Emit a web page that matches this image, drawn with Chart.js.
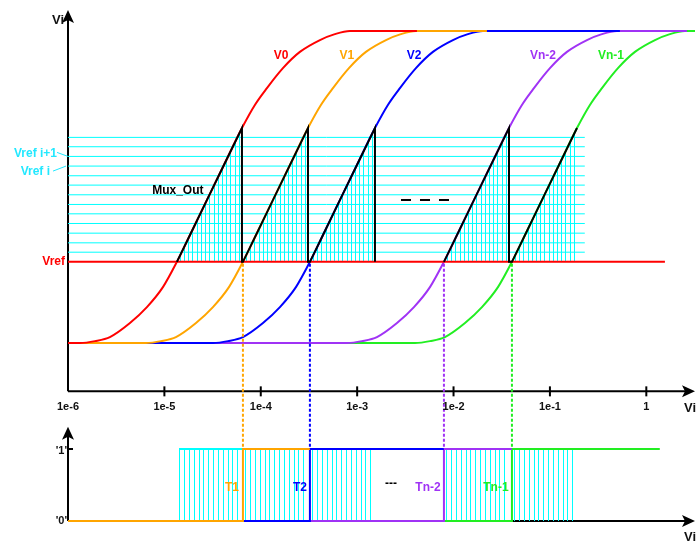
<!DOCTYPE html>
<html>
<head>
<meta charset="utf-8">
<title>Mux_Out</title>
<script src="https://cdn.jsdelivr.net/npm/chart.js@4.4.1/dist/chart.umd.min.js"></script>
<style>
  body { margin: 0; background: #fff; }
  canvas { display: block; }
</style>
</head>
<body>
<canvas id="chart" width="697" height="541"></canvas>
<script>
// log axis ticks
const tickValues = [1e-6, 1e-5, 1e-4, 1e-3, 1e-2, 1e-1, 1]
const tickLabels = ['1e-6', '1e-5', '1e-4', '1e-3', '1e-2', '1e-1', '1']

// comparator curves (levels: 0 = low, 1 = high)
const curveNames  = ['V0', 'V1', 'V2', 'Vn-2', 'Vn-1']
const curveColors = ['#ff0000', '#ffa500', '#0000ff', '#a033f5', '#22ee22']
const curveStart  = [1e-6, 1.33e-6, 6.44e-6, 3.19e-5, 7.84e-4]
const riseStart   = [1.33e-6, 6.44e-6, 3.19e-5, 7.84e-4, 3.98e-3]
const curveEnd    = [4.17e-3, 0.0222, 0.532, 2.64, 3.2]
const curveLabelX = [1.62e-4, 7.83e-4, 3.89e-3, 0.0847, 0.43]

// shape of one rise: decades after riseStart, and level
const riseDecades = [0, 0.156, 0.311, 0.519, 0.695, 0.861, 1.006, 1.162, 1.317, 1.504, 1.681, 1.815, 1.94, 2.106, 2.282, 2.49, 2.645, 2.801]
const riseLevels  = [0, 0.006, 0.019, 0.064, 0.115, 0.179, 0.26, 0.359, 0.458, 0.577, 0.689, 0.763, 0.817, 0.881, 0.933, 0.971, 0.99, 1]
const CROSS = 6   // point where the curve meets Vref
const TOP = 10    // point where Mux_Out switches to the next curve

// reference ladder
const vrefLevels = [0.26, 0.291, 0.321, 0.352, 0.383, 0.414, 0.444, 0.475, 0.506, 0.536, 0.567, 0.598, 0.629, 0.659]
const vref = vrefLevels[0]
const ladderEnd = 0.23
const vrefEnd = 1.56

// Mux_Out break (the "- - -" between V2 and Vn-2)
const muxBreakBefore = [false, false, false, true, false]

// thermometer outputs, one per curve V1..Vn-1
const signalNames = ['T1', 'T2', 'Tn-2', 'Tn-1']
const signalLabelX = [5.02e-5, 2.55e-4, 5.43e-3, 0.0275]
const signalEnd = 1.38

const CYAN = '#00ffff'
const FONT = '"Liberation Sans", Arial, sans-serif'
const axisLevel = -0.155     // top x axis, in top units
const sigAxisTop = 1.31      // top of the lower y axis, in signal units

const curvePoint = (k, i) => ({ x: riseStart[k] * Math.pow(10, riseDecades[i]), y: riseLevels[i] })
const switchX = k => riseStart[k] * Math.pow(10, riseDecades[CROSS])

function curvePoints(k) {
  const pts = [{ x: curveStart[k], y: 0 }]
  riseDecades.forEach((d, i) => pts.push(curvePoint(k, i)))
  pts.push({ x: curveEnd[k], y: 1 })
  return pts
}

function muxPoints() {
  const pts = []
  curveNames.forEach((name, k) => {
    if (muxBreakBefore[k]) pts.push({ x: switchX(k), y: null })
    for (let i = CROSS; i <= TOP; i++) pts.push(curvePoint(k, i))
    if (k < curveNames.length - 1) pts.push({ x: curvePoint(k, TOP).x, y: vref })
  })
  return pts
}

function signalPoints(j) {
  const k = j + 1
  const lowFrom = j === 0 ? 1e-6 : switchX(k - 1)
  const highTo = k < curveNames.length - 1 ? switchX(k + 1) : signalEnd
  return [{ x: lowFrom, y: 0 }, { x: switchX(k), y: 0 }, { x: switchX(k), y: 1 }, { x: highTo, y: 1 }]
}

const ladderPoints = []
vrefLevels.slice(1).forEach(v => {
  ladderPoints.push({ x: 1e-6, y: v }, { x: ladderEnd, y: v }, { x: ladderEnd, y: null })
})

const datasets = [
  { data: ladderPoints, borderColor: CYAN, borderWidth: 1, order: 10, yAxisID: 'y' },
  ...curveNames.map((n, k) => ({
    label: n, data: curvePoints(k), borderColor: curveColors[k], borderWidth: 2,
    cubicInterpolationMode: 'monotone', order: 5 + k, yAxisID: 'y'
  })),
  { data: [{ x: 1e-6, y: vref }, { x: vrefEnd, y: vref }], borderColor: '#ff0000', borderWidth: 2, order: 3, yAxisID: 'y' },
  { label: 'Mux_Out', data: muxPoints(), borderColor: '#000', borderWidth: 2, order: 1, yAxisID: 'y' },
  ...signalNames.map((n, j) => ({
    label: n, data: signalPoints(j), borderColor: curveColors[j + 1], borderWidth: 2, order: 2, yAxisID: 'y2'
  }))
]

function seg(ctx, x1, y1, x2, y2) {
  ctx.beginPath(); ctx.moveTo(x1, y1); ctx.lineTo(x2, y2); ctx.stroke()
}
// crisp 1px vertical line
function vline(ctx, x, y1, y2) {
  ctx.fillRect(Math.round(x), Math.round(Math.min(y1, y2)), 1, Math.round(Math.abs(y2 - y1)))
}
function arrowUp(ctx, x, y) {
  ctx.beginPath(); ctx.moveTo(x, y); ctx.lineTo(x - 6, y + 13); ctx.lineTo(x, y + 10); ctx.lineTo(x + 6, y + 13); ctx.closePath(); ctx.fill()
}
function arrowRight(ctx, x, y) {
  ctx.beginPath(); ctx.moveTo(x, y); ctx.lineTo(x - 13, y - 6); ctx.lineTo(x - 10, y); ctx.lineTo(x - 13, y + 6); ctx.closePath(); ctx.fill()
}
function text(ctx, str, x, y, color, size, align) {
  ctx.fillStyle = color
  ctx.font = 'bold ' + size + 'px ' + FONT
  ctx.textAlign = align || 'center'
  ctx.textBaseline = 'middle'
  ctx.fillText(str, x, y)
}

const drawing = {
  id: 'drawing',
  beforeDatasetsDraw(chart) {
    const { ctx, chartArea: a, scales: { x, y, y2 } } = chart
    const X = v => x.getPixelForValue(v), Y = v => y.getPixelForValue(v), Y2 = v => y2.getPixelForValue(v)
    const x0 = X(1e-6)
    ctx.save()
    ctx.strokeStyle = '#000'; ctx.fillStyle = '#000'; ctx.lineWidth = 2

    // upper axes
    const yAx = Y(axisLevel)
    seg(ctx, x0, yAx, x0, a.top + 8)
    arrowUp(ctx, x0, a.top)
    seg(ctx, x0, yAx, a.right - 8, yAx)
    arrowRight(ctx, a.right, yAx)
    tickValues.slice(1).forEach(v => seg(ctx, X(v), yAx - 5, X(v), yAx + 5))

    // lower axes
    const y0 = Y2(0)
    seg(ctx, x0, y0, x0, Y2(sigAxisTop) + 8)
    arrowUp(ctx, x0, Y2(sigAxisTop))
    seg(ctx, x0, y0, a.right - 8, y0)
    arrowRight(ctx, a.right, y0)
    seg(ctx, x0, Y2(1), x0 + 5, Y2(1))

    // sampling hatch under each Mux_Out segment
    ctx.fillStyle = CYAN
    curveNames.forEach((n, k) => {
      const logCross = Math.log10(switchX(k))
      const logTop = Math.log10(curvePoint(k, TOP).x)
      ctx.save()
      ctx.beginPath()
      ctx.moveTo(X(switchX(k)), Y(vref))
      for (let i = CROSS; i <= TOP; i++) { const p = curvePoint(k, i); ctx.lineTo(X(p.x), Y(p.y)) }
      ctx.lineTo(X(curvePoint(k, TOP).x), Y(vref))
      ctx.closePath()
      ctx.clip()
      for (let d = logCross + 0.031; d < logTop; d += 0.0436) {
        vline(ctx, X(Math.pow(10, d)), Y(vref), Y(riseLevels[TOP]))
      }
      ctx.restore()

      const xa = Math.round(X(Math.pow(10, logCross + 0.025)))
      ctx.fillRect(xa, Math.round(Y2(1)) - 1, Math.round(X(curvePoint(k, TOP).x)) - xa, 2)
      for (let d = logCross + 0.025; d < logTop - 0.01; d += 0.05) {
        vline(ctx, X(Math.pow(10, d)), Y2(0), Y2(1))
      }
    })
    ctx.restore()
  },
  afterDatasetsDraw(chart) {
    const { ctx, chartArea: a, scales: { x, y, y2 } } = chart
    const X = v => x.getPixelForValue(v), Y = v => y.getPixelForValue(v), Y2 = v => y2.getPixelForValue(v)
    const x0 = X(1e-6)
    ctx.save()

    // switching instants
    ctx.lineWidth = 2
    ctx.setLineDash([3, 2])
    for (let k = 1; k < curveNames.length; k++) {
      ctx.strokeStyle = curveColors[k]
      const px = X(switchX(k))
      seg(ctx, px, Y(vref) + 2, px, Y2(1))
    }
    ctx.setLineDash([])

    // "- - -" between V2 and Vn-2
    ctx.strokeStyle = '#000'
    ctx.setLineDash([10, 9])
    seg(ctx, X(2.85e-3), Y(0.458), X(8.98e-3), Y(0.458))
    ctx.setLineDash([])

    // labels
    curveNames.forEach((n, k) => text(ctx, n, X(curveLabelX[k]), Y(0.92), curveColors[k], 12))
    text(ctx, 'Mux_Out', X(1.38e-5), Y(0.487), '#000', 12)
    signalNames.forEach((n, j) => text(ctx, n, X(signalLabelX[j]), Y2(0.46), curveColors[j + 1], 12))
    text(ctx, '---', X(2.24e-3), Y2(0.52), '#000', 12)

    text(ctx, 'Vref', x0 - 3, Y(vref), '#ff0000', 12, 'right')
    const yi1 = Y(vrefLevels[11]), yi = Y(vrefLevels[10])
    text(ctx, 'Vref i+1', x0 - 11, yi1 - 3, '#22e8ff', 12, 'right')
    text(ctx, 'Vref i', x0 - 18, yi + 6, '#22e8ff', 12, 'right')
    ctx.strokeStyle = '#22e8ff'; ctx.lineWidth = 1
    seg(ctx, x0 - 11, yi1 - 4, x0, yi1)
    seg(ctx, x0 - 15, yi + 5, x0 - 2, yi)

    const yAx = Y(axisLevel)
    tickValues.forEach((v, i) => text(ctx, tickLabels[i], X(v), yAx + 16, '#111', 11))
    text(ctx, 'Vi', x0 - 4, a.top + 10, '#111', 13, 'right')
    text(ctx, 'Vi', a.right - 11, yAx + 17, '#111', 13, 'left')
    text(ctx, 'Vi', a.right - 11, Y2(0) + 16, '#111', 13, 'left')
    text(ctx, "'1'", x0 - 1, Y2(1) + 2, '#111', 11, 'right')
    text(ctx, "'0'", x0 - 1, Y2(0), '#111', 11, 'right')
    ctx.restore()
  }
}

new Chart(document.getElementById('chart'), {
  type: 'line',
  data: { datasets },
  options: {
    responsive: false,
    animation: false,
    layout: { padding: { left: 68, right: 2, top: 10, bottom: 11 } },
    elements: { point: { radius: 0 }, line: { tension: 0 } },
    scales: {
      x: { type: 'logarithmic', min: 1e-6, max: 3.2, display: false },
      y: { type: 'linear', min: -0.5994, max: 1.0673, display: false },
      y2: { type: 'linear', min: -0.125, max: 7.097, display: false }
    },
    plugins: { legend: { display: false }, tooltip: { enabled: false } }
  },
  plugins: [drawing]
})
</script>
</body>
</html>
